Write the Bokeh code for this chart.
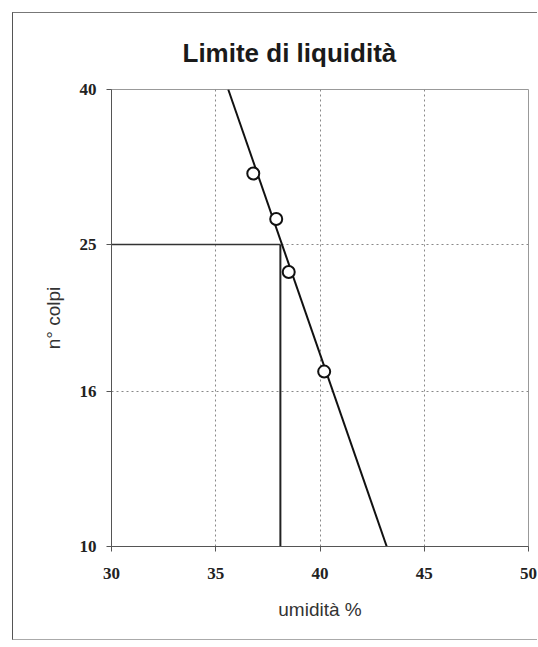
from bokeh.plotting import figure
from bokeh.models import Range1d, FixedTicker, NumeralTickFormatter
from bokeh.embed import file_html
from bokeh.resources import INLINE

# data
umidita = [36.8, 37.9, 38.5, 40.2]      # water content %
colpi = [31, 27, 23, 17]                 # number of blows
trend_x = [35.6, 43.2]                   # fitted line ends (umidità %)
trend_y = [40, 10]                       # fitted line ends (n° colpi)
ll_value = 38.1                          # liquid limit at 25 blows
n_ref = 25
x_ticks = [30, 35, 40, 45, 50]
y_ticks = [10, 16, 25, 40]

p = figure(width=525, height=628, output_backend="svg", toolbar_location=None,
           x_range=Range1d(30, 50), y_range=Range1d(10, 40), y_axis_type="log",
           min_border_left=98, min_border_right=10, min_border_top=76, min_border_bottom=95,
           margin=(12, 0, 0, 12),
           styles={"border-left": "1px solid #555", "border-top": "1px solid #777",
                   "border-bottom": "1px solid #aaa"})

p.title.text = "Limite di liquidità"
p.title.text_font = "Liberation Sans"
p.title.text_font_size = "26px"
p.title.text_font_style = "bold"
p.title.text_color = "#1a1a1a"
p.title.align = "left"
p.title.offset = 71
p.title.standoff = 43

p.background_fill_color = "white"
p.border_fill_color = "white"
p.outline_line_color = "#999999"
p.outline_line_width = 1

# grid
p.xgrid.ticker = FixedTicker(ticks=x_ticks)
p.ygrid.ticker = FixedTicker(ticks=y_ticks)
for g in (p.xgrid, p.ygrid):
    g.grid_line_color = "#888888"
    g.grid_line_dash = "2 3"
    g.grid_line_width = 1

# axes
p.xaxis.ticker = FixedTicker(ticks=x_ticks)
p.yaxis.ticker = FixedTicker(ticks=y_ticks)
p.yaxis.formatter = NumeralTickFormatter(format="0")
p.xaxis.formatter = NumeralTickFormatter(format="0")
for ax in (p.xaxis, p.yaxis):
    ax.axis_line_color = "#555555"
    ax.major_tick_line_color = "#555555"
    ax.major_tick_out = 5
    ax.major_tick_in = 0
    ax.minor_tick_line_color = None
    ax.major_label_text_font = "Liberation Serif"
    ax.major_label_text_font_size = "17px"
    ax.major_label_text_font_style = "bold"
    ax.major_label_text_color = "#222222"
    ax.axis_label_text_font = "Liberation Sans"
    ax.axis_label_text_font_size = "19px"
    ax.axis_label_text_font_style = "normal"
    ax.axis_label_text_color = "#333333"

p.xaxis.axis_label = "umidità %"
p.yaxis.axis_label = "n° colpi"
p.xaxis.major_label_standoff = 16
p.yaxis.major_label_standoff = 10
p.xaxis.axis_label_standoff = 17
p.yaxis.axis_label_standoff = 13

# reference lines at 25 blows
p.line([30, ll_value], [n_ref, n_ref], line_color="#333333", line_width=1.6)
p.line([ll_value, ll_value], [n_ref, 10], line_color="#222222", line_width=2)

# trend line
p.line(trend_x, trend_y, line_color="#111111", line_width=2)

# data points
p.scatter(umidita, colpi, size=12, marker="circle", fill_color="white",
          line_color="#111111", line_width=2)

open("out.html", "w").write(file_html(p, INLINE))
